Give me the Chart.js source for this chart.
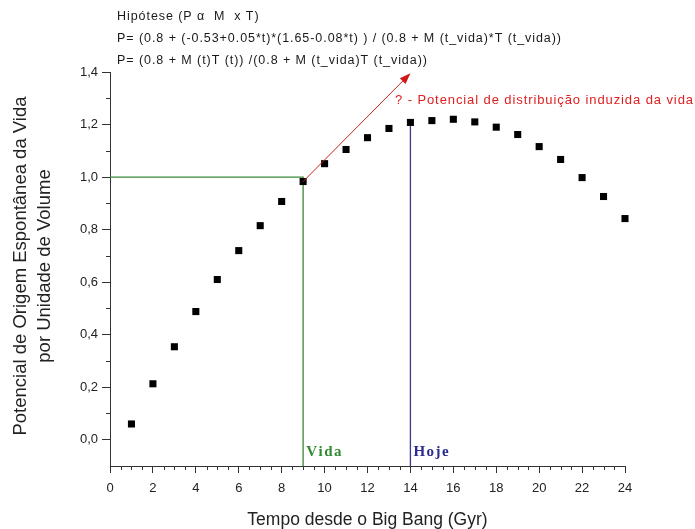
<!DOCTYPE html>
<html>
<head>
<meta charset="utf-8">
<script src="https://cdn.jsdelivr.net/npm/chart.js@4"></script>
<style>
html, body { margin: 0; padding: 0; background: #fff; }
</style>
</head>
<body>
<canvas id="chart" width="695" height="529"></canvas>
<script>
// tempo (Gyr) e potencial
const tempos = [1, 2, 3, 4, 5, 6, 7, 8, 9, 10, 11, 12, 13, 14, 15, 16, 17, 18, 19, 20, 21, 22, 23, 24];
const potencial = [0.06, 0.213, 0.354, 0.488, 0.61, 0.72, 0.815, 0.907, 0.983, 1.051, 1.105, 1.15,
                   1.185, 1.208, 1.215, 1.22, 1.21, 1.19, 1.162, 1.116, 1.067, 0.998, 0.926, 0.842];

const xTicks = [0, 2, 4, 6, 8, 10, 12, 14, 16, 18, 20, 22, 24];
const xMinor = [0.5, 1, 1.5, 2.5, 3, 3.5, 4.5, 5, 5.5, 6.5, 7, 7.5, 8.5, 9, 9.5, 10.5, 11, 11.5,
                12.5, 13, 13.5, 14.5, 15, 15.5, 16.5, 17, 17.5, 18.5, 19, 19.5, 20.5, 21, 21.5, 22.5, 23, 23.5];
const yTicks = [0, 0.2, 0.4, 0.6, 0.8, 1.0, 1.2, 1.4];
const yMinor = [0.1, 0.3, 0.5, 0.7, 0.9, 1.1, 1.3];

// marcações: vida em t=9, hoje em t=14
const vidaX = [0, 9, 9];
const vidaY = [1.0, 1.0, -0.1];
const hojeX = [14, 14];
const hojeY = [1.208, -0.1];
const setaX = [9, 14];
const setaY = [0.983, 1.395];

const textoTopo = [
    'Hipótese (P \u03b1  M  x T)',
    'P= (0.8 + (-0.53+0.05*t)*(1.65-0.08*t) ) / (0.8 + M (t_vida)*T (t_vida))',
    'P= (0.8 + M (t)T (t)) /(0.8 + M (t_vida)T (t_vida))'
];
const textoSeta = '? - Potencial de distribuição induzida da vida';
const tituloY = ['Potencial de Origem Espontânea da Vida', 'por Unidade de Volume'];
const tituloX = 'Tempo desde o Big Bang (Gyr)';

const fonte = '"Liberation Sans", Arial, sans-serif';
const serifa = '"Liberation Serif", "Times New Roman", serif';

function toPoints(xs, ys) {
    return xs.map((x, i) => ({ x: x, y: ys[i] }));
}

function spacedText(ctx, str, x, y, spacing) {
    let cx = x;
    for (const ch of str) {
        ctx.fillText(ch, cx, y);
        cx += ctx.measureText(ch).width + spacing;
    }
    return cx - spacing;
}

function spacedWidth(ctx, str, spacing) {
    let w = 0;
    for (const ch of str) w += ctx.measureText(ch).width + spacing;
    return w - spacing;
}

const extras = {
    id: 'extras',
    afterDraw(chart) {
        const ctx = chart.ctx;
        const xs = chart.scales.x;
        const ys = chart.scales.y;
        const area = chart.chartArea;
        ctx.save();

        // minor ticks
        ctx.strokeStyle = '#333';
        ctx.lineWidth = 1;
        ctx.beginPath();
        xMinor.forEach(v => {
            const px = Math.round(xs.getPixelForValue(v)) + 0.5;
            ctx.moveTo(px, area.bottom);
            ctx.lineTo(px, area.bottom + 4);
        });
        yMinor.forEach(v => {
            const py = Math.round(ys.getPixelForValue(v)) + 0.5;
            ctx.moveTo(area.left, py);
            ctx.lineTo(area.left - 4, py);
        });
        ctx.stroke();

        // seta
        const x0 = xs.getPixelForValue(setaX[0]), y0 = ys.getPixelForValue(setaY[0]);
        const x1 = xs.getPixelForValue(setaX[1]), y1 = ys.getPixelForValue(setaY[1]);
        const ang = Math.atan2(y1 - y0, x1 - x0);
        ctx.strokeStyle = '#c82020';
        ctx.fillStyle = '#d01818';
        ctx.lineWidth = 1;
        ctx.beginPath();
        ctx.moveTo(x0, y0);
        ctx.lineTo(x1 - 8 * Math.cos(ang), y1 - 8 * Math.sin(ang));
        ctx.stroke();
        ctx.beginPath();
        ctx.moveTo(x1, y1);
        ctx.lineTo(x1 - 11 * Math.cos(ang) + 4 * Math.sin(ang), y1 - 11 * Math.sin(ang) - 4 * Math.cos(ang));
        ctx.lineTo(x1 - 11 * Math.cos(ang) - 4 * Math.sin(ang), y1 - 11 * Math.sin(ang) + 4 * Math.cos(ang));
        ctx.closePath();
        ctx.fill();

        // textos
        ctx.textBaseline = 'middle';
        ctx.textAlign = 'left';
        ctx.font = '13px ' + fonte;
        ctx.fillStyle = '#e02020';
        const spR = (298 - spacedWidth(ctx, textoSeta, 0)) / (textoSeta.length - 1);
        spacedText(ctx, textoSeta, 395, 100, spR);

        ctx.fillStyle = '#1a1a1a';
        ctx.font = '12.5px ' + fonte;
        const sp = (444 - spacedWidth(ctx, textoTopo[1], 0)) / (textoTopo[1].length - 1);
        spacedText(ctx, textoTopo[0], 117, 17, sp);
        spacedText(ctx, textoTopo[1], 117, 39, sp);
        spacedText(ctx, textoTopo[2], 117, 61, sp);

        ctx.font = 'bold 15px ' + serifa;
        ctx.fillStyle = '#2e8b2e';
        spacedText(ctx, 'Vida', xs.getPixelForValue(9) + 3, 452, 1.5);
        ctx.fillStyle = '#2a2a90';
        spacedText(ctx, 'Hoje', xs.getPixelForValue(14) + 3, 452, 1.5);

        // títulos dos eixos
        ctx.fillStyle = '#222';
        ctx.textAlign = 'center';
        ctx.font = '17.5px ' + fonte;
        ctx.fillText(tituloX, (area.left + area.right) / 2, 520);
        ctx.translate(0, (area.top + area.bottom) / 2 - 3);
        ctx.rotate(-Math.PI / 2);
        ctx.font = '18.5px ' + fonte;
        ctx.fillText(tituloY[0], 0, 21);
        ctx.fillText(tituloY[1], 0, 45);
        ctx.restore();
    }
};

new Chart(document.getElementById('chart'), {
    type: 'scatter',
    data: {
        datasets: [
            {
                data: toPoints(tempos, potencial),
                backgroundColor: '#000',
                borderWidth: 0,
                pointStyle: 'rect',
                pointRadius: 5,
                clip: false,
                order: 0
            },
            {
                data: toPoints(vidaX, vidaY),
                showLine: true,
                borderColor: '#3a8a3a',
                borderWidth: 1.3,
                pointRadius: 0,
                order: 1
            },
            {
                data: toPoints(hojeX, hojeY),
                showLine: true,
                borderColor: '#3a3a8c',
                borderWidth: 1.3,
                pointRadius: 0,
                order: 1
            }
        ]
    },
    options: {
        responsive: false,
        animation: false,
        layout: { padding: { left: 0, top: 72, right: 70, bottom: 0 } },
        plugins: { legend: { display: false }, tooltip: { enabled: false } },
        scales: {
            x: {
                type: 'linear',
                min: 0,
                max: 24,
                afterFit: s => { s.height = 63; },
                afterBuildTicks: s => { s.ticks = xTicks.map(v => ({ value: v })); },
                ticks: {
                    padding: 8,
                    color: '#222',
                    font: { family: fonte, size: 13 },
                    maxRotation: 0,
                    autoSkip: false
                },
                grid: { drawOnChartArea: false, tickLength: 7, color: '#333' },
                border: { color: '#333', width: 1 }
            },
            y: {
                type: 'linear',
                min: -0.1,
                max: 1.4,
                afterFit: s => { s.width = 110; },
                afterBuildTicks: s => { s.ticks = yTicks.map(v => ({ value: v })); },
                ticks: {
                    padding: 4,
                    color: '#222',
                    font: { family: fonte, size: 13 },
                    autoSkip: false,
                    callback: v => v.toFixed(1).replace('.', ',')
                },
                grid: { drawOnChartArea: false, tickLength: 8, color: '#333' },
                border: { color: '#333', width: 1 }
            }
        }
    },
    plugins: [extras]
});
</script>
</body>
</html>
